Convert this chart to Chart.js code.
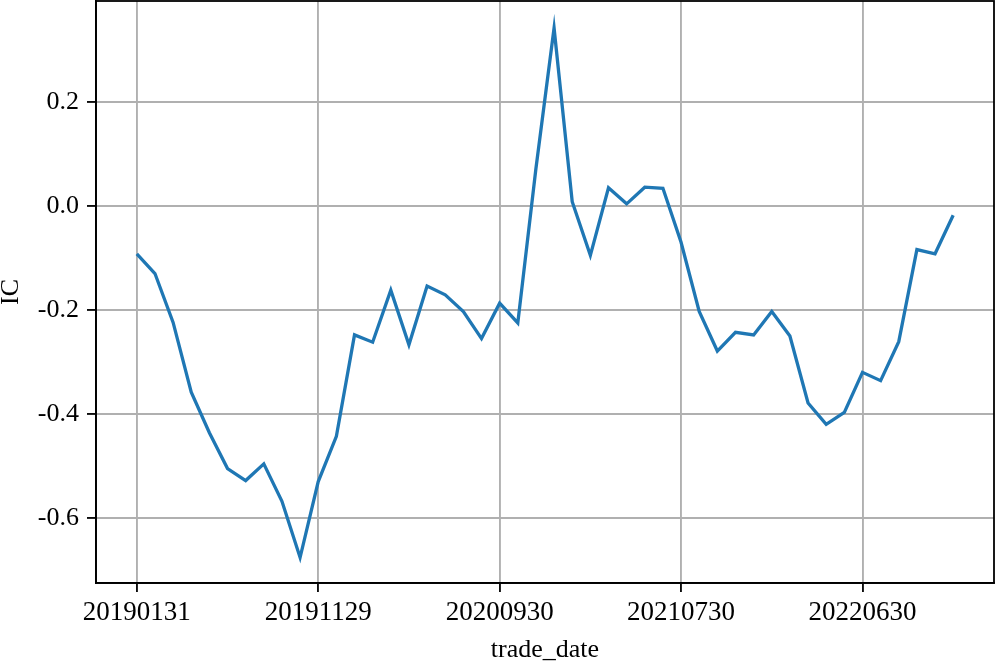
<!DOCTYPE html>
<html>
<head>
<meta charset="utf-8">
<script src="https://cdn.jsdelivr.net/npm/chart.js@4/dist/chart.umd.min.js"></script>
<style>
html,body{margin:0;padding:0;background:#fff;}
#wrap{width:996px;height:662px;position:relative;}
</style>
</head>
<body>
<div id="wrap"><canvas id="c" width="996" height="662"></canvas></div>
<script>
const tradeDates = [
 "20190131","20190228","20190329","20190430","20190531","20190628","20190731","20190830","20190930","20191031",
 "20191129","20191231","20200123","20200228","20200331","20200430","20200529","20200630","20200731","20200831",
 "20200930","20201030","20201130","20201231","20210129","20210226","20210331","20210430","20210531","20210630",
 "20210730","20210831","20210930","20211029","20211130","20211231","20220128","20220331","20220429","20220531",
 "20220630","20220729","20220831","20220930","20221031","20221130"
];
const icValues = [
 -0.092,-0.130,-0.224,-0.358,-0.436,-0.505,-0.528,-0.496,-0.568,-0.676,
 -0.530,-0.443,-0.248,-0.262,-0.162,-0.267,-0.154,-0.171,-0.203,-0.255,
 -0.187,-0.225,0.072,0.342,0.008,-0.095,0.035,0.004,0.036,0.034,
 -0.070,-0.203,-0.279,-0.243,-0.248,-0.203,-0.250,-0.379,-0.420,-0.397,
 -0.320,-0.336,-0.261,-0.084,-0.092,-0.018
];
const xTickIdx = [0,10,20,30,40];
const yTicks = [-0.6,-0.4,-0.2,0.0,0.2];

const FONT = "'Liberation Serif', 'Times New Roman', serif";

const framePlugin = {
  id: 'frame',
  afterDraw(chart){
    const {ctx, chartArea:a} = chart;
    ctx.save();
    ctx.strokeStyle = '#000';
    ctx.lineWidth = 1.8;
    ctx.strokeRect(a.left, a.top, a.right - a.left, a.bottom - a.top);
    ctx.restore();
  }
};

new Chart(document.getElementById('c'), {
  type: 'line',
  data: {
    datasets: [{
      data: icValues.map((v,i)=>({x:i, y:v})),
      borderColor: '#1f77b4',
      borderWidth: 3.3,
      pointRadius: 0,
      tension: 0,
      fill: false
    }]
  },
  options: {
    responsive: false,
    animation: false,
    layout: {padding: {top: 1, right: 2, left: 0, bottom: 0}},
    plugins: {legend: {display:false}, tooltip:{enabled:false}},
    scales: {
      x: {
        type: 'linear',
        min: -2.25, max: 47.25,
        afterBuildTicks: s => { s.ticks = xTickIdx.map(v=>({value:v})); },
        afterFit: s => { s.height = 79; s.paddingLeft = 0; s.paddingRight = 0; },
        ticks: {
          callback: v => tradeDates[v],
          color: '#000',
          font: {family: FONT, size: 27},
          maxRotation: 0, autoSkip: false, padding: 5
        },
        grid: {color: '#b0b0b0', lineWidth: 1.9, tickColor: '#000', tickLength: 9, tickWidth: 1.8},
        border: {color: '#000', width: 1.8},
        title: {display: true, text: 'trade_date', color: '#000', font: {family: FONT, size: 26, lineHeight: 1}, padding: {top:0, bottom:-1}}
      },
      y: {
        type: 'linear',
        min: -0.725, max: 0.394,
        afterBuildTicks: s => { s.ticks = yTicks.map(v=>({value:v})); },
        afterFit: s => { s.width = 96; s.paddingTop = 0; s.paddingBottom = 0; },
        ticks: {
          callback: v => v.toFixed(1),
          color: '#000',
          font: {family: FONT, size: 26},
          padding: 8
        },
        grid: {color: '#b0b0b0', lineWidth: 1.9, tickColor: '#000', tickLength: 9, tickWidth: 1.8},
        border: {color: '#000', width: 1.8},
        title: {display: true, text: 'IC', color: '#000', font: {family: FONT, size: 26, lineHeight: 1}, padding: {top:-2, bottom:0}}
      }
    }
  },
  plugins: [framePlugin]
});
</script>
</body>
</html>
